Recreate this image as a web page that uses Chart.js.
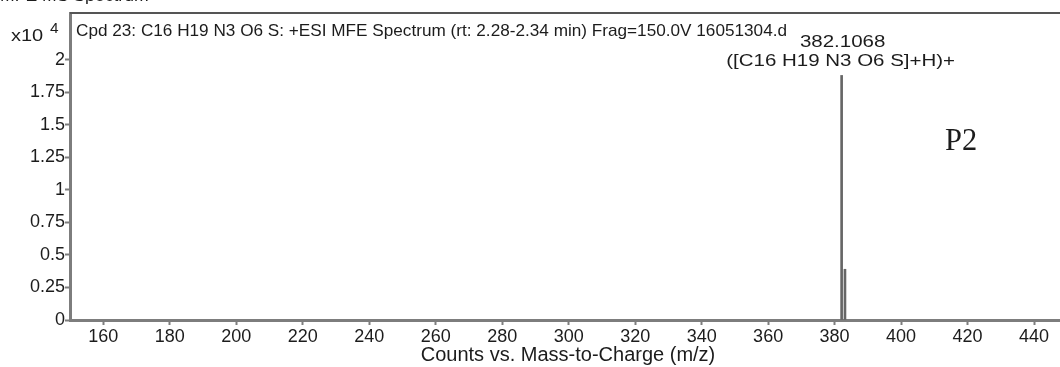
<!DOCTYPE html>
<html>
<head>
<meta charset="utf-8">
<script src="https://cdn.jsdelivr.net/npm/chart.js@4.4.1/dist/chart.umd.min.js"></script>
<style>
  html, body { margin: 0; padding: 0; background: #fff; overflow: hidden; }
  #wrap { width: 1066px; height: 367px; }
</style>
</head>
<body>
<div id="wrap"><canvas id="spectrum" width="1066" height="367"></canvas></div>
<script>
// spectrum data (m/z, counts x10^4)
const peakMz = [382.1068, 383.11];
const peakCounts = [1.88, 0.39];
const peakLabels = ["382.1068\n([C16 H19 N3 O6 S]+H)+", ""];

const xTicks = [160, 180, 200, 220, 240, 260, 280, 300, 320, 340, 360, 380, 400, 420, 440];
const yTicks = [0, 0.25, 0.5, 0.75, 1, 1.25, 1.5, 1.75, 2];

const titleText = "Cpd 23: C16 H19 N3 O6 S: +ESI MFE Spectrum (rt: 2.28-2.34 min) Frag=150.0V 16051304.d";
const axisTitle = "Counts vs. Mass-to-Charge (m/z)";

const axisColor = "#7d7d7d";
const textColor = "#1c1c1c";
const font = "Arial, 'Liberation Sans', sans-serif";

const ctx = document.getElementById("spectrum").getContext("2d");

// text stretched sideways like the scanned original
function wideText(c, str, x, y, sx, align) {
  c.save();
  c.translate(x, y);
  c.scale(sx, 1);
  c.textAlign = align;
  c.fillText(str, 0, 0);
  c.restore();
}

// extra texts drawn on the canvas
const textPlugin = {
  id: "spectrumText",
  afterDraw(chart) {
    const c = chart.ctx;
    const area = chart.chartArea;
    const xs = chart.scales.x;
    c.save();
    // top frame line
    c.strokeStyle = "#555";
    c.lineWidth = 2;
    c.beginPath();
    c.moveTo(area.left, area.top);
    c.lineTo(area.right, area.top);
    c.stroke();

    c.fillStyle = textColor;
    c.textBaseline = "alphabetic";
    // cut-off heading above the frame
    c.font = "16px " + font;
    wideText(c, "MFE MS Spectrum", 0, 1, 1.1, "left");
    c.font = "17px " + font;
    wideText(c, titleText, area.left + 6, 36, 1.01, "left");
    // x10^4 multiplier
    c.font = "16px " + font;
    wideText(c, "x10", 11, 41, 1.25, "left");
    c.font = "14px " + font;
    wideText(c, "4", 50, 33, 1.1, "left");

    // peak labels
    c.font = "16px " + font;
    peakMz.forEach((mz, i) => {
      if (!peakLabels[i]) return;
      const lines = peakLabels[i].split("\n");
      const px = xs.getPixelForValue(mz);
      wideText(c, lines[0], px + 1, 47, 1.28, "center");
      wideText(c, lines[1], px - 1, 66, 1.28, "center");
    });

    // P2 marker
    c.font = "32px 'Liberation Serif', 'DejaVu Serif', serif";
    wideText(c, "P2", 945, 150, 0.95, "left");
    c.restore();
  }
};

const spectrumChart = new Chart(ctx, {
  type: "bar",
  data: {
    datasets: [
      {
        label: "Counts",
        data: peakMz.map((mz, i) => ({ x: mz, y: peakCounts[i] })),
        backgroundColor: "#666",
        borderWidth: 0,
        barThickness: 2,
      },
    ],
  },
  options: {
    responsive: false,
    animation: false,
    events: [],
    layout: { padding: { top: 13, right: 0, left: 0, bottom: 0 } },
    plugins: {
      legend: { display: false },
      tooltip: { enabled: false },
    },
    scales: {
      x: {
        type: "linear",
        offset: false,
        min: 150,
        max: 449.6,
        afterBuildTicks: (scale) => { scale.ticks = xTicks.map((v) => ({ value: v })); },
        afterFit: (scale) => { scale.height = 47; },
        grid: { offset: false, drawOnChartArea: false, drawTicks: true, tickLength: 5, tickColor: axisColor, tickWidth: 2 },
        border: { display: true, color: axisColor, width: 3 },
        ticks: { color: textColor, font: { size: 18, family: font }, padding: 1, maxRotation: 0, autoSkip: false },
        title: { display: true, text: axisTitle, color: textColor, font: { size: 20, family: font }, padding: { top: -7, bottom: 0 } },
      },
      y: {
        type: "linear",
        min: 0,
        max: 2.36,
        afterBuildTicks: (scale) => { scale.ticks = yTicks.map((v) => ({ value: v })); },
        afterFit: (scale) => { scale.width = 70; },
        grid: { drawOnChartArea: false, drawTicks: true, tickLength: 5, tickColor: axisColor, tickWidth: 2 },
        border: { display: true, color: axisColor, width: 3 },
        ticks: { color: textColor, font: { size: 18, family: font }, padding: 0, autoSkip: false, callback: (v) => String(v) },
      },
    },
  },
  plugins: [textPlugin],
});
</script>
</body>
</html>
